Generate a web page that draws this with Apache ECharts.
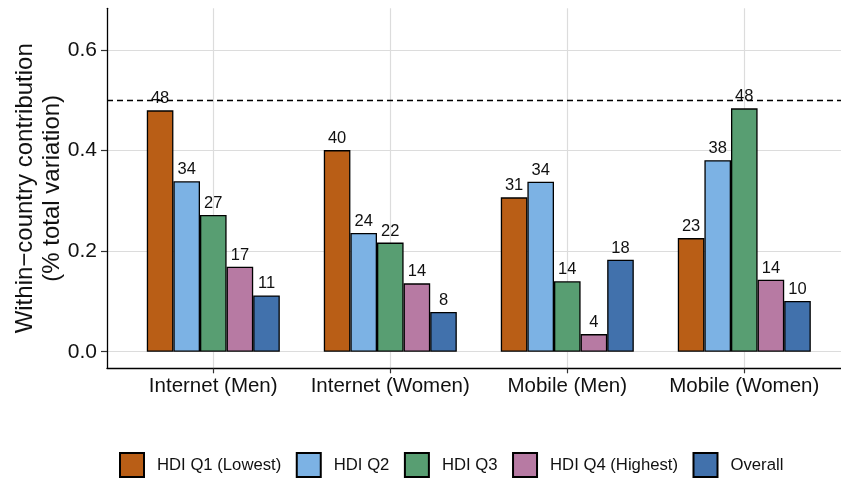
<!DOCTYPE html>
<html>
<head>
<meta charset="utf-8">
<script src="https://cdn.jsdelivr.net/npm/echarts@6/dist/echarts.min.js"></script>
<style>
html,body{margin:0;padding:0;background:#fff;}
#chart{width:841px;height:479px;}
</style>
</head>
<body>
<div id="chart"></div>
<script>
const categories = ['Internet (Men)', 'Internet (Women)', 'Mobile (Men)', 'Mobile (Women)'];
const seriesNames = ['HDI Q1 (Lowest)', 'HDI Q2', 'HDI Q3', 'HDI Q4 (Highest)', 'Overall'];
const q1Values = [0.480, 0.401, 0.307, 0.226];
const q2Values = [0.339, 0.236, 0.338, 0.381];
const q3Values = [0.272, 0.217, 0.140, 0.484];
const q4Values = [0.169, 0.136, 0.035, 0.143];
const overallValues = [0.112, 0.079, 0.183, 0.101];
const yTickValues = [0, 0.2, 0.4, 0.6];
const referenceValue = 0.5;

const colors = ['#B95E16', '#7CB2E4', '#589E72', '#B77AA3', '#4171AC'];
const allValues = [q1Values, q2Values, q3Values, q4Values, overallValues];

const Y_MIN = -0.033, Y_MAX = 0.683;
const FONT = 'Liberation Sans, Arial, sans-serif';
const xCenters = categories.map((c, i) => i + 1);

const chart = echarts.init(document.getElementById('chart'), null, {renderer: 'canvas'});

const barSeries = seriesNames.map((name, k) => ({
  name: name,
  type: 'bar',
  xAxisIndex: 1,
  yAxisIndex: 1,
  barWidth: 26.6,
  barGap: '0%',
  data: allValues[k],
  itemStyle: {color: colors[k], borderColor: '#000', borderWidth: 1.3},
  label: {
    show: true,
    position: 'top',
    distance: 3,
    color: '#111',
    fontSize: 16.5,
    fontFamily: FONT,
    formatter: p => String(Math.round(p.value * 100))
  },
  z: 3
}));

const option = {
  backgroundColor: '#fff',
  animation: false,
  grid: [
    {left: 107, top: 8.3, width: 743.5, height: 360, containLabel: false, outerBoundsMode: 'none'},
    {left: 124.8, top: 8.3, width: 708, height: 360, containLabel: false, outerBoundsMode: 'none'}
  ],
  xAxis: [
    {
      type: 'value', gridIndex: 0, min: 0.4, max: 4.6,
      axisLine: {show: true, onZero: false, lineStyle: {color: '#000', width: 1.3}},
      axisTick: {show: true, length: 5, customValues: xCenters, lineStyle: {color: '#333', width: 1.2}},
      axisLabel: {
        show: true, customValues: xCenters, margin: 8,
        fontSize: 20.5, fontFamily: FONT, color: '#111',
        formatter: v => categories[Math.round(v) - 1] || ''
      },
      splitLine: {show: true, lineStyle: {color: '#DCDCDC', width: 1.2}}
    },
    {
      type: 'category', gridIndex: 1, data: categories,
      axisLine: {show: false}, axisTick: {show: false}, axisLabel: {show: false}, splitLine: {show: false}
    }
  ],
  yAxis: [
    {
      type: 'value', gridIndex: 0, min: Y_MIN, max: Y_MAX,
      axisLine: {show: true, onZero: false, lineStyle: {color: '#000', width: 1.3}},
      axisTick: {show: true, length: 6, customValues: yTickValues, lineStyle: {color: '#333', width: 1.2}},
      axisLabel: {
        show: true, customValues: yTickValues, margin: 10,
        fontSize: 21, fontFamily: FONT, color: '#111',
        formatter: v => v.toFixed(1)
      },
      splitLine: {show: true, lineStyle: {color: '#DCDCDC', width: 1.2}},
      name: 'Within\u2212country contribution\n(% total variation)',
      nameLocation: 'middle',
      nameRotate: 90,
      nameGap: 41,
      nameMoveOverlap: false,
      nameTextStyle: {fontSize: 24, fontFamily: FONT, color: '#111', lineHeight: 27}
    },
    {
      type: 'value', gridIndex: 1, min: Y_MIN, max: Y_MAX,
      axisLine: {show: false}, axisTick: {show: false}, axisLabel: {show: false}, splitLine: {show: false}
    }
  ],
  legend: {
    data: seriesNames,
    left: 114,
    top: 447,
    icon: 'rect',
    itemWidth: 24,
    itemHeight: 24,
    itemGap: 14.5,
    textStyle: {fontSize: 16.7, fontFamily: FONT, color: '#111', padding: [0, 0, 0, 8]}
  },
  series: [
    {
      type: 'line',
      xAxisIndex: 0,
      yAxisIndex: 0,
      data: [],
      silent: true,
      markLine: {
        silent: true,
        symbol: ['none', 'none'],
        label: {show: false},
        lineStyle: {color: '#000', type: [6, 4], width: 1.3},
        data: [{yAxis: referenceValue}]
      },
      z: 2
    }
  ].concat(barSeries)
};

chart.setOption(option);
</script>
</body>
</html>
